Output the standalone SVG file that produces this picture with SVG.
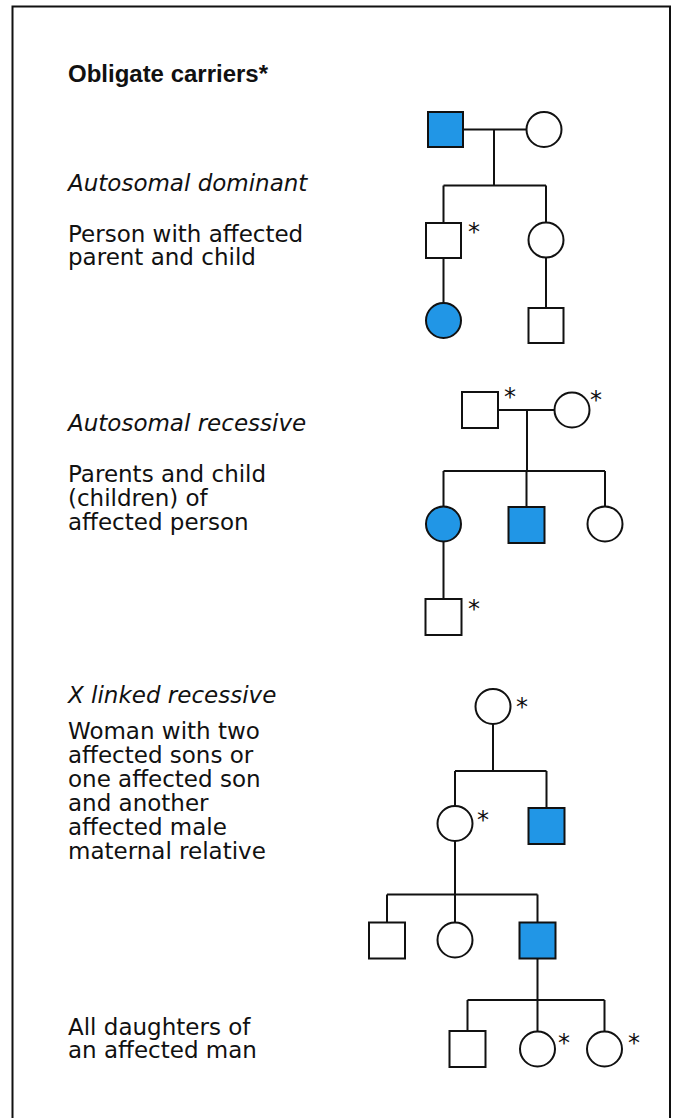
<svg xmlns="http://www.w3.org/2000/svg" width="676" height="1118" viewBox="0 0 676 1118">
<style>
.frame{fill:none;stroke:#111;stroke-width:2}
.n{fill:#fff;stroke:#111;stroke-width:2}
.a{fill:#2196E6;stroke:#111;stroke-width:2}
.c{fill:none;stroke:#111;stroke-width:2}
.t{font-family:"DejaVu Sans",sans-serif;font-size:23px;fill:#111}
.i{font-style:italic}
.h{font-family:"Liberation Sans",Arial,sans-serif;font-weight:bold;font-size:23px;fill:#111}
.s{font-family:"DejaVu Sans",sans-serif;font-size:24px;fill:#111}
</style>
<rect class="frame" x="12.5" y="6.5" width="657.5" height="1130"/>
<g id="labels">
<text class="h" x="68" y="82" textLength="200" lengthAdjust="spacingAndGlyphs">Obligate carriers*</text>
<text class="t i" x="68" y="191">Autosomal dominant</text>
<text class="t" x="68" y="242">Person with affected</text>
<text class="t" x="68" y="265">parent and child</text>
<text class="t i" x="68" y="431">Autosomal recessive</text>
<text class="t" x="68" y="482">Parents and child</text>
<text class="t" x="68" y="506">(children) of</text>
<text class="t" x="68" y="530">affected person</text>
<text class="t i" x="68" y="703">X linked recessive</text>
<text class="t" x="68" y="739">Woman with two</text>
<text class="t" x="68" y="763">affected sons or</text>
<text class="t" x="68" y="787">one affected son</text>
<text class="t" x="68" y="811">and another</text>
<text class="t" x="68" y="835">affected male</text>
<text class="t" x="68" y="859">maternal relative</text>
<text class="t" x="68" y="1035">All daughters of</text>
<text class="t" x="68" y="1058">an affected man</text>
</g>
<g id="connectors">
<path class="c" d="M463 129.5H526.5M494 129.5V185.5M443.5 185.5H546M443.5 185.5V223M546 185.5V222.5M443.5 258V303M546 257.5V308"/>
<path class="c" d="M498 410H554.5M527 410V471M443.5 471H605M443.5 471V506.5M526.5 471V507M605 471V506.5M443.5 541.5V599"/>
<path class="c" d="M493 724V771M455 771H546.5M455 771V806M546.5 771V808M455 841V894.5M387 894.5H537.5M387 894.5V922.5M455 894.5V922.5M537.5 894.5V922.5M537.5 958.5V1000M467.5 1000H604.5M467.5 1000V1031M537.5 1000V1031.5M604.5 1000V1031.5"/>
</g>
<g id="p1-father"><rect class="a" x="428" y="112" width="35" height="35"/></g>
<g id="p1-mother"><circle class="n" cx="544" cy="129.5" r="17.5"/></g>
<g id="p1-son"><rect class="n" x="426" y="223" width="35" height="35"/><text class="s" x="468" y="240">*</text></g>
<g id="p1-daughter"><circle class="n" cx="546" cy="240" r="17.5"/></g>
<g id="p1-granddaughter"><circle class="a" cx="443.5" cy="320.5" r="17.5"/></g>
<g id="p1-grandson"><rect class="n" x="528.5" y="308" width="35" height="35"/></g>
<g id="p2-father"><rect class="n" x="462" y="392" width="36" height="36"/><text class="s" x="504" y="405">*</text></g>
<g id="p2-mother"><circle class="n" cx="572" cy="410" r="17.5"/><text class="s" x="590" y="408">*</text></g>
<g id="p2-daughter"><circle class="a" cx="443.5" cy="524" r="17.5"/></g>
<g id="p2-son"><rect class="a" x="508.5" y="507" width="36" height="36"/></g>
<g id="p2-daughter2"><circle class="n" cx="605" cy="524" r="17.5"/></g>
<g id="p2-grandson"><rect class="n" x="425.5" y="599" width="36" height="36"/><text class="s" x="468" y="617">*</text></g>
<g id="p3-grandmother"><circle class="n" cx="493" cy="706.5" r="17.5"/><text class="s" x="516" y="715">*</text></g>
<g id="p3-mother"><circle class="n" cx="455" cy="823.5" r="17.5"/><text class="s" x="477" y="828">*</text></g>
<g id="p3-uncle"><rect class="a" x="528.5" y="808" width="36" height="36"/></g>
<g id="p3-son1"><rect class="n" x="369" y="922.5" width="36" height="36"/></g>
<g id="p3-daughter"><circle class="n" cx="455" cy="940" r="17.5"/></g>
<g id="p3-son2"><rect class="a" x="519.5" y="922.5" width="36" height="36"/></g>
<g id="p3-grandson"><rect class="n" x="449.5" y="1031" width="36" height="36"/></g>
<g id="p3-granddaughter1"><circle class="n" cx="537.5" cy="1049" r="17.5"/><text class="s" x="558" y="1051">*</text></g>
<g id="p3-granddaughter2"><circle class="n" cx="604.5" cy="1049" r="17.5"/><text class="s" x="628" y="1051">*</text></g>
</svg>
